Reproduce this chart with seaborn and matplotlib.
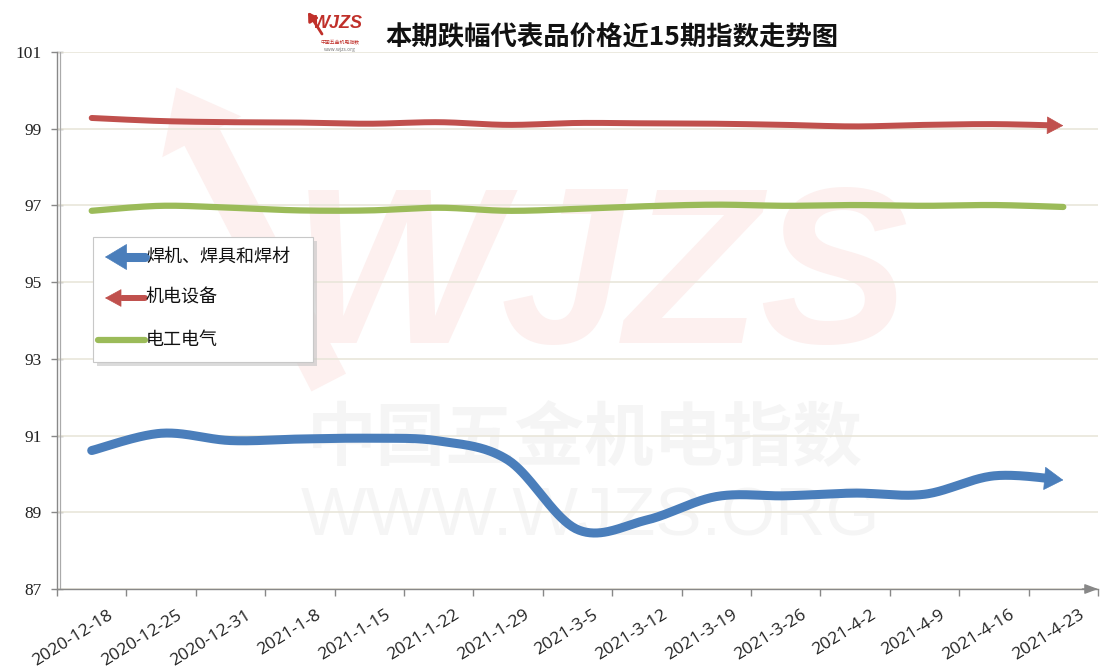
import numpy as np
import pandas as pd
import matplotlib
matplotlib.use("Agg")
import matplotlib.pyplot as plt
import seaborn as sns
from matplotlib.patches import Rectangle, FancyArrowPatch
from matplotlib.lines import Line2D

# ---------------- data ----------------
dates = ["2020-12-18", "2020-12-25", "2020-12-31", "2021-1-8", "2021-1-15",
         "2021-1-22", "2021-1-29", "2021-3-5", "2021-3-12", "2021-3-19",
         "2021-3-26", "2021-4-2", "2021-4-9", "2021-4-16", "2021-4-23"]
welding = [90.61, 91.06, 90.87, 90.91, 90.93, 90.86, 90.36, 88.55, 88.80,
           89.41, 89.43, 89.50, 89.47, 89.95, 89.84]
electromech = [99.28, 99.20, 99.17, 99.16, 99.13, 99.17, 99.10, 99.15, 99.14,
               99.13, 99.10, 99.06, 99.10, 99.12, 99.08]
electrical = [96.86, 96.99, 96.94, 96.87, 96.87, 96.94, 96.86, 96.91, 96.98,
              97.02, 96.99, 97.01, 96.99, 97.01, 96.96]
series_names = ["焊机、焊具和焊材", "机电设备", "电工电气"]
title = "本期跌幅代表品价格近15期指数走势图"
yticks = [87, 89, 91, 93, 95, 97, 99, 101]

BLUE = "#4a7ebb"
RED = "#c0504d"
GREEN = "#9bbb59"

sns.set_theme(style="white")
plt.rcParams["font.family"] = ["Noto Sans CJK SC", "DejaVu Sans"]

W, H = 1111, 668
fig = plt.figure(figsize=(W / 100, H / 100), dpi=100)
ax = fig.add_axes([57 / W, 1 - 589 / H, (1098 - 57) / W, (589 - 52) / H])
ax.set_facecolor("none")


def px(x, y):
    """pixel (top-left origin) -> figure fraction"""
    return x / W, 1 - y / H


# ---------------- watermark (inside axes, behind lines) ----------------
ax.text(*px(600, 285), "WJZS", fontsize=160, fontweight="bold", style="italic",
        family="Liberation Sans", color="#fdf0ef", ha="center", va="center", zorder=0,
        transform=fig.transFigure)
ax.add_patch(FancyArrowPatch(px(330, 385), px(175, 85), transform=fig.transFigure,
                             arrowstyle="simple,head_length=1.0,head_width=1.6,tail_width=0.7",
                             mutation_scale=40, fc="#fdf0ef", ec="none", zorder=0))
ax.text(*px(585, 440), "中国五金机电指数", fontsize=50, fontweight="bold",
        color="#f5f5f5", ha="center", va="center", zorder=0, transform=fig.transFigure)
ax.text(*px(590, 517), "WWW.WJZS.ORG", fontsize=50, family="Liberation Sans",
        color="#f5f5f5", ha="center", va="center", zorder=0, transform=fig.transFigure)


# ---------------- smoothing (Excel-like bezier) ----------------
def smooth(vals, n=40):
    y = np.asarray(vals, float)
    x = np.arange(len(y), dtype=float)
    P = np.column_stack([x, y])
    out = []
    m = len(P)
    t = np.linspace(0, 1, n)[:, None]
    for i in range(m - 1):
        p0 = P[max(i - 1, 0)]
        p1 = P[i]
        p2 = P[i + 1]
        p3 = P[min(i + 2, m - 1)]
        c1 = p1 + (p2 - p0) / 6
        c2 = p2 - (p3 - p1) / 6
        B = ((1 - t) ** 3) * p1 + 3 * ((1 - t) ** 2) * t * c1 + 3 * (1 - t) * t ** 2 * c2 + t ** 3 * p2
        out.append(B if i == 0 else B[1:])
    B = np.vstack(out)
    return B[:, 0], B[:, 1]


def draw_series(vals, color, lw, arrow=None):
    xs, ys = smooth(vals)
    if arrow is not None:
        cut = len(vals) - 1 - arrow[0]
        keep = xs <= cut
        xe, ye = xs[keep], ys[keep]
    else:
        xe, ye = xs, ys
    df = pd.DataFrame({"x": xe, "y": ye})
    sns.lineplot(data=df, x="x", y="y", sort=False, estimator=None, ax=ax,
                 color=color, lw=lw, solid_capstyle="round", zorder=4)
    if arrow is not None:
        ax.annotate("", xy=(len(vals) - 1, vals[-1]), xytext=(xe[-1] - 0.05, ye[-1]),
                    arrowprops=dict(arrowstyle=arrow[1], mutation_scale=10, fc=color,
                                    ec=color, lw=0.5, shrinkA=0, shrinkB=0), zorder=5)


draw_series(electromech, RED, 4.3, arrow=(0.18, "-|>,head_length=1.1,head_width=0.6"))
draw_series(electrical, GREEN, 4.5)
draw_series(welding, BLUE, 6.5, arrow=(0.22, "-|>,head_length=1.3,head_width=0.8"))

# ---------------- axes ----------------
ax.set_xlim(-0.5, 14.5)
ax.set_ylim(87, 101)
ax.set_xlabel("")
ax.set_ylabel("")
ax.set_yticks(yticks)
ax.set_yticklabels([str(v) for v in yticks], family="Liberation Serif", fontsize=12.5,
                   color="#222222")
# labels sit a little left of each category boundary; tick marks on the boundaries
ax.set_xticks(np.arange(15) + 0.22)
ax.set_xticklabels(dates, rotation=32, ha="right", va="top", rotation_mode="anchor",
                   family="Open Sans", fontsize=12.5, color="#222222")
ax.tick_params(axis="x", which="major", length=0, pad=13)
ax.set_xticks(np.arange(16) - 0.5, minor=True)
ax.tick_params(axis="x", which="minor", direction="out", length=5, width=1, color="#888888",
               bottom=True)
ax.tick_params(axis="y", direction="inout", length=8, width=1, color="#888888", left=True, pad=7)
for yv in yticks:
    ax.axhline(yv, color="#e9e6da", lw=1.2, zorder=1)
for s in ["top", "right"]:
    ax.spines[s].set_visible(False)
ax.spines["left"].set_color("#888888")
ax.spines["bottom"].set_color("#888888")
ax.spines["left"].set_linewidth(1)
ax.spines["bottom"].set_linewidth(1)
ax.axvline(-0.5 + 0.045, color="#aaaaaa", lw=0.9, zorder=2)
# x axis arrow at the right end
ax.annotate("", xy=(1.0, 0), xytext=(0.985, 0), xycoords="axes fraction",
            arrowprops=dict(arrowstyle="-|>,head_length=0.8,head_width=0.3", mutation_scale=10,
                            fc="#888888", ec="#888888", lw=1, shrinkA=0, shrinkB=0),
            annotation_clip=False)

# ---------------- title + logo ----------------
fig.text(*px(612, 38), title, fontsize=19, fontweight="bold", ha="center", va="center",
         color="#111111")
fig.text(*px(338, 24), "WJZS", fontsize=13, fontweight="bold", style="italic",
         family="Liberation Sans", color="#c0302a", ha="center", va="center")
fig.text(*px(340, 42), "中国五金机电指数", fontsize=3.5, color="#c0302a", ha="center", va="center")
fig.text(*px(340, 49), "www.wjzs.org", fontsize=3.5, color="#777777", ha="center", va="center")
fig.add_artist(FancyArrowPatch(px(322, 34), px(308, 12), transform=fig.transFigure,
                               arrowstyle="-|>,head_length=0.5,head_width=0.3", mutation_scale=10,
                               fc="#c0302a", ec="#c0302a", lw=2, shrinkA=0, shrinkB=0))

# ---------------- legend ----------------
x0, y0, x1, y1 = 93, 237, 313, 362
shadow = Rectangle(px(x0 + 4, y1 + 4), (x1 - x0) / W, (y1 - y0) / H, transform=fig.transFigure,
                   fc="#c4c4c4", ec="none", alpha=0.6, zorder=6)
box = Rectangle(px(x0, y1), (x1 - x0) / W, (y1 - y0) / H, transform=fig.transFigure,
                fc="white", ec="#c8c8c8", lw=0.8, zorder=7)
fig.add_artist(shadow)
fig.add_artist(box)

leg_items = [(257, BLUE, 6.5, "-|>,head_length=1.5,head_width=0.9"),
             (298, RED, 4.3, "-|>,head_length=1.1,head_width=0.6"),
             (340, GREEN, 4.5, None)]
for (yy, col, lw, style), name in zip(leg_items, series_names):
    if style is None:
        fig.add_artist(Line2D([98 / W, 145 / W], [1 - yy / H] * 2, transform=fig.transFigure,
                              color=col, lw=lw, solid_capstyle="round", zorder=8))
    else:
        fig.add_artist(Line2D([122 / W, 145 / W], [1 - yy / H] * 2, transform=fig.transFigure,
                              color=col, lw=lw, solid_capstyle="round", zorder=8))
        fig.add_artist(FancyArrowPatch(px(127, yy), px(105, yy), transform=fig.transFigure,
                                       arrowstyle=style, mutation_scale=10, fc=col, ec=col,
                                       lw=0.5, shrinkA=0, shrinkB=0, zorder=9))
    fig.text(*px(146, yy), name, fontsize=13, ha="left", va="center", color="#111111",
             zorder=9)

fig.savefig("out.png", dpi=100)
